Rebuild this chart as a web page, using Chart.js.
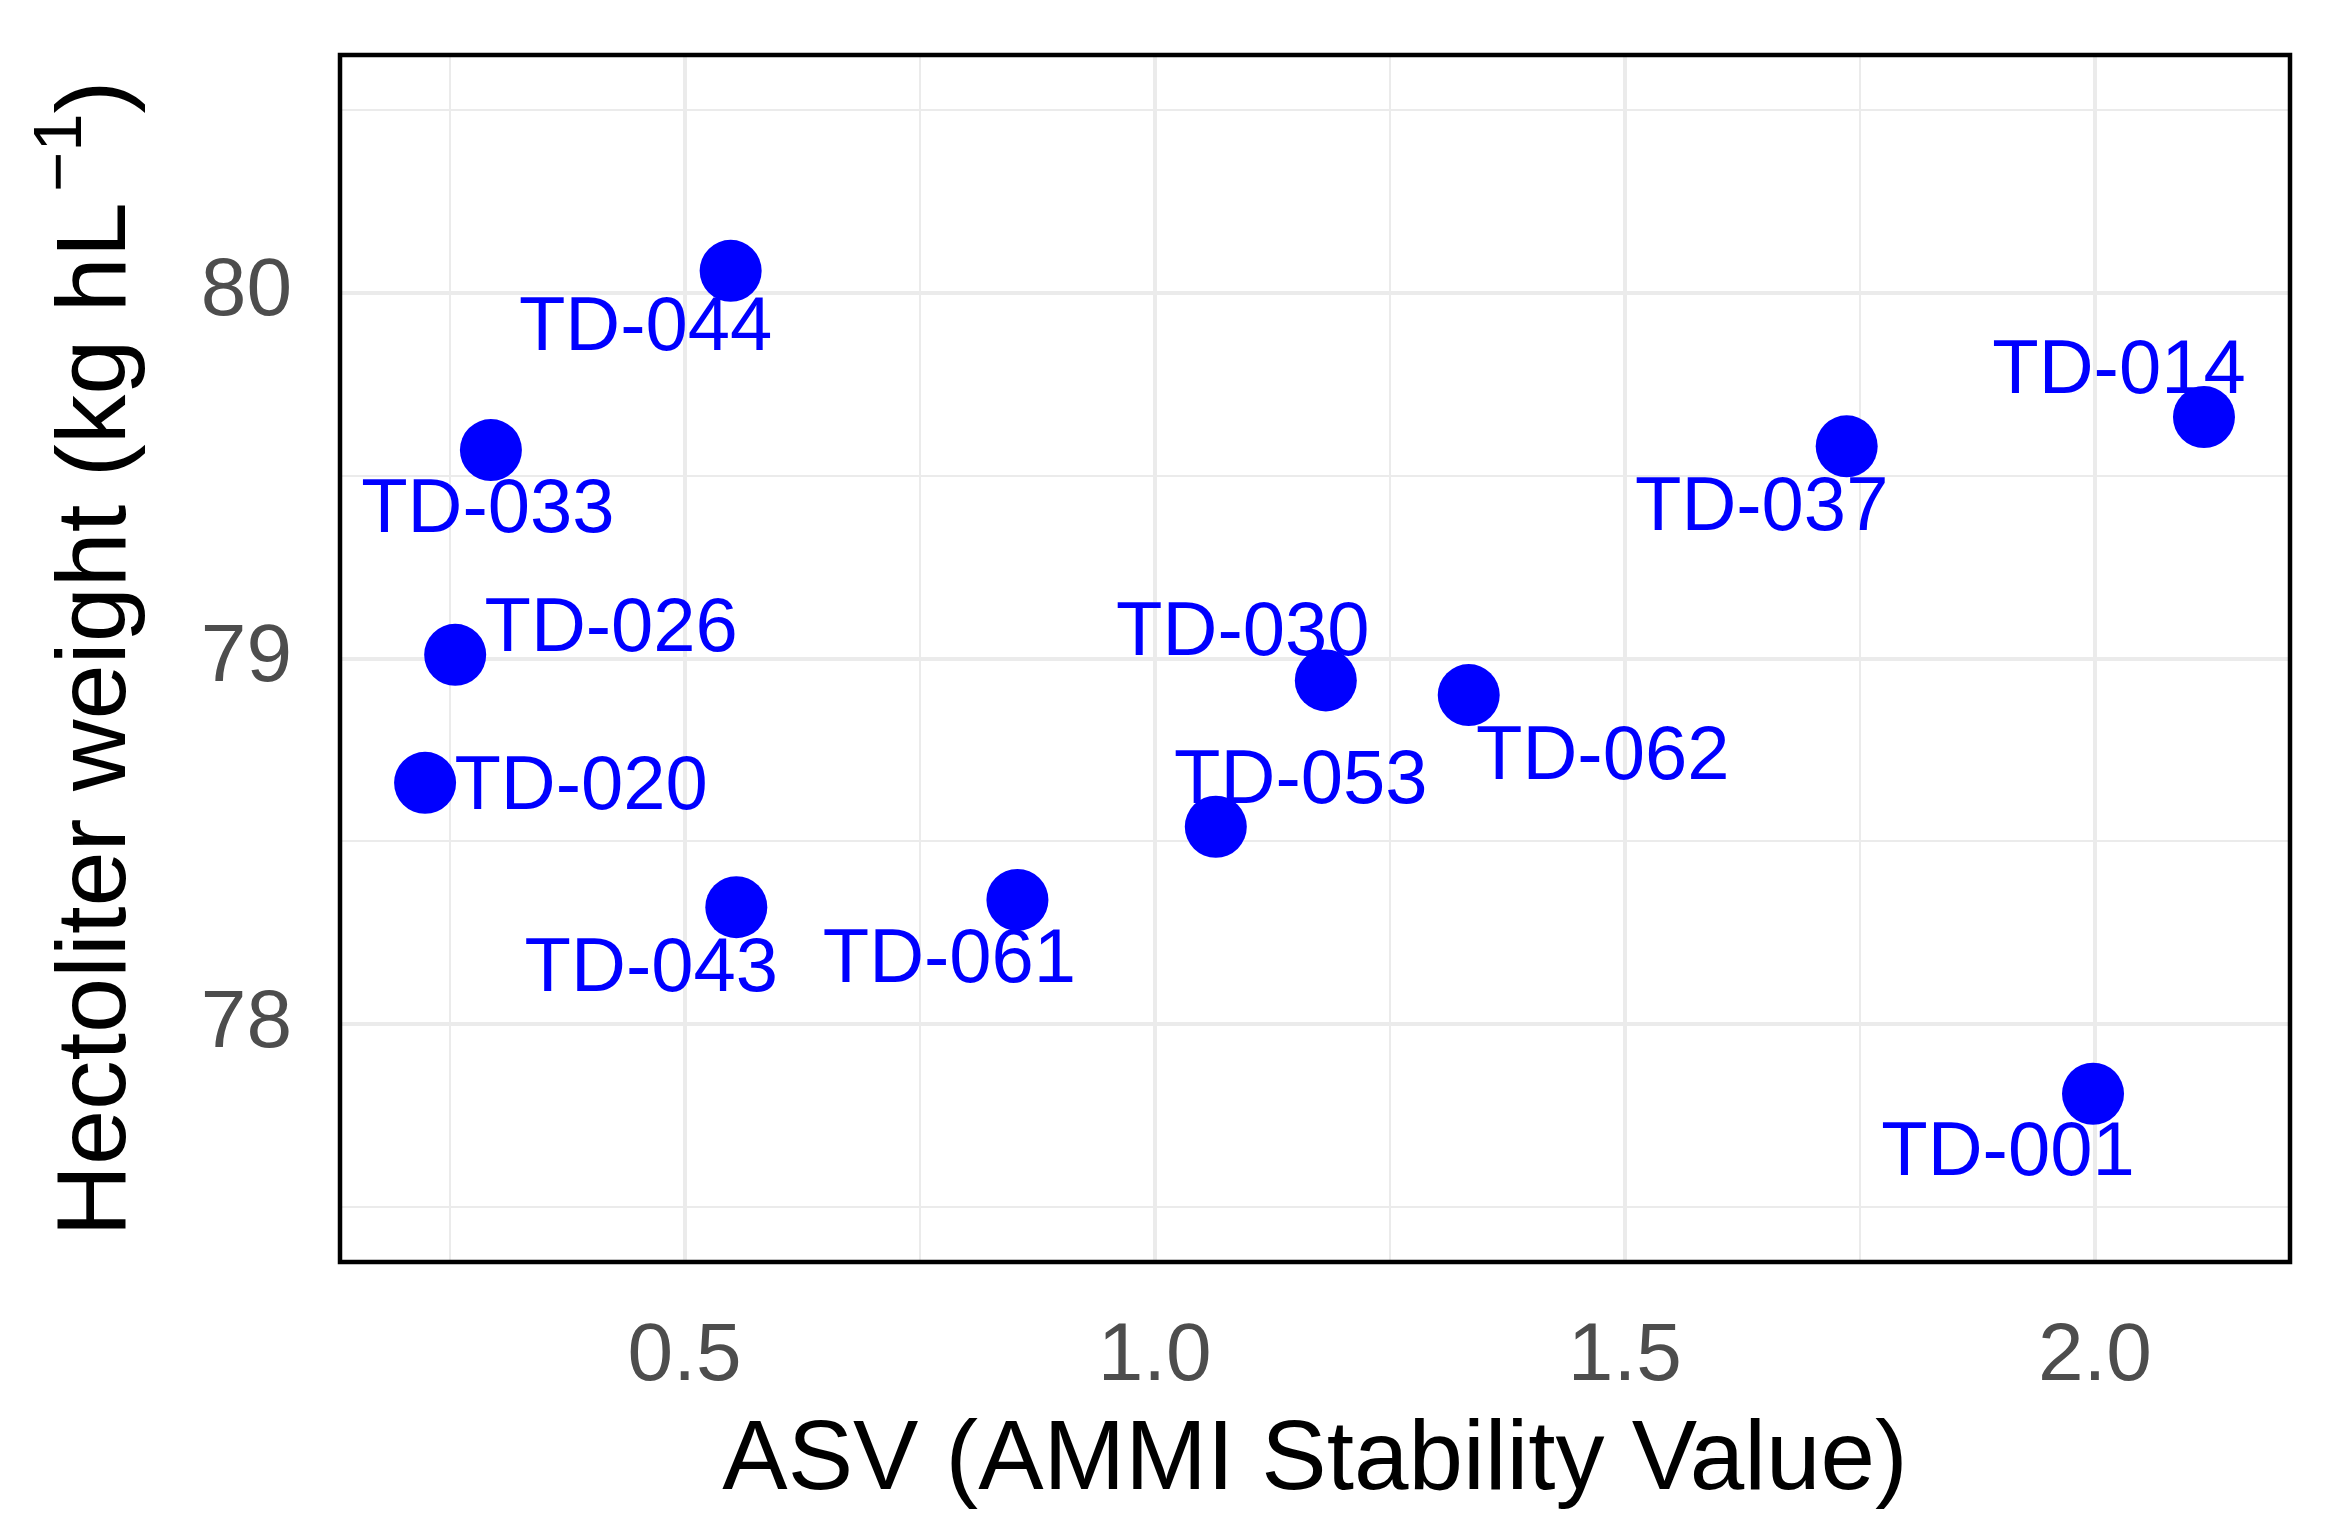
<!DOCTYPE html>
<html><head><meta charset="utf-8">
<script src="https://cdn.jsdelivr.net/npm/chart.js@4"></script>
<style>html,body{margin:0;padding:0;background:#fff;} canvas{display:block;}</style>
</head><body>
<canvas id="c" width="2335" height="1528"></canvas>
<script>
// ---- data ----
const genotypes = ["TD-044","TD-033","TD-026","TD-020","TD-043","TD-061","TD-053","TD-030","TD-062","TD-037","TD-014","TD-001"];
const asv = [0.549,0.294,0.256,0.224,0.555,0.854,1.065,1.182,1.334,1.736,2.116,1.998];
const hectoliterWeight = [80.06,79.57,79.01,78.66,78.32,78.34,78.54,78.94,78.90,79.58,79.66,77.81];
const xMajorTicks = [0.5,1.0,1.5,2.0];
const xMinorTicks = [0.25,0.75,1.25,1.75];
const yMajorTicks = [78,79,80];
const yMinorTicks = [77.5,78.5,79.5,80.5];
const xRange = [0.1335,2.2075];
const yRange = [77.35,80.65];
const xTitle = "ASV (AMMI Stability Value)";
const yTitleMain = "Hectoliter weight (kg hL";
const yTitleSup = "\u22121";
const yTitleEnd = ")";

// ---- layout (label nudges in px, not data) ----
const labelNudge = [[-85,52],[-3,55],[156,-31],[156,-1],[-85,57],[-68,55],[85,-51],[-83,-52],[134,57],[-85,57],[-85,-51],[-85,54]];
const FONT = '"Liberation Sans", Arial, Helvetica, sans-serif';
const W = 2335, H = 1528;
const plotL = 340, plotR = 2290, plotT = 55, plotB = 1262;

const annot = {
  id: 'annot',
  afterDatasetsDraw(chart) {
    const ctx = chart.ctx;
    const meta = chart.getDatasetMeta(0);
    ctx.save();
    ctx.fillStyle = '#0000FF';
    ctx.font = '76px ' + FONT;
    ctx.textAlign = 'center';
    ctx.textBaseline = 'alphabetic';
    meta.data.forEach((pt, i) => {
      const [dx, dy] = labelNudge[i];
      ctx.fillText(genotypes[i], pt.x + dx, pt.y + dy + 27);
    });
    ctx.restore();
  },
  afterDraw(chart) {
    const ctx = chart.ctx;
    const a = chart.chartArea;
    ctx.save();
    ctx.strokeStyle = '#000';
    ctx.lineWidth = 4.5;
    ctx.strokeRect(a.left, a.top, a.right - a.left, a.bottom - a.top);
    ctx.fillStyle = '#000';
    ctx.font = '98px ' + FONT;
    ctx.textAlign = 'center';
    ctx.textBaseline = 'alphabetic';
    ctx.fillText(xTitle, (a.left + a.right) / 2, 1489);
    const mainF = '99px ' + FONT, supF = '69px ' + FONT;
    ctx.font = mainF; const w1 = ctx.measureText(yTitleMain).width; const w3 = ctx.measureText(yTitleEnd).width;
    ctx.font = supF; const w2 = ctx.measureText(yTitleSup).width;
    const gap = 10;
    const total = w1 + gap + w2 + w3;
    ctx.translate(125, (a.top + a.bottom) / 2);
    ctx.rotate(-Math.PI / 2);
    ctx.textAlign = 'left';
    let x0 = -total / 2;
    ctx.font = mainF; ctx.fillText(yTitleMain, x0, 0);
    ctx.font = supF; ctx.fillText(yTitleSup, x0 + w1 + gap, -44);
    ctx.font = mainF; ctx.fillText(yTitleEnd, x0 + w1 + gap + w2, 0);
    ctx.restore();
  }
};

const isIn = (arr, v) => arr.some(t => Math.abs(t - v) < 1e-9);
const zeroPad = s => { s.paddingTop = 0; s.paddingBottom = 0; s.paddingLeft = 0; s.paddingRight = 0; };

new Chart(document.getElementById('c').getContext('2d'), {
  type: 'scatter',
  data: { datasets: [{
    data: asv.map((x, i) => ({ x: x, y: hectoliterWeight[i] })),
    backgroundColor: '#0000FF', borderWidth: 0, pointRadius: 31, pointHoverRadius: 31
  }]},
  options: {
    responsive: false, devicePixelRatio: 1, animation: false, events: [],
    layout: { padding: { top: plotT, right: W - plotR, left: 0, bottom: 0 } },
    plugins: { legend: { display: false }, tooltip: { enabled: false } },
    scales: {
      x: {
        type: 'linear', min: xRange[0], max: xRange[1],
        afterBuildTicks: s => { s.ticks = [...xMinorTicks, ...xMajorTicks].sort((a, b) => a - b).map(v => ({ value: v })); },
        afterFit: s => { s.height = H - plotB; zeroPad(s); },
        ticks: { autoSkip: false, maxRotation: 0, padding: 46, color: '#4D4D4D',
          font: { family: FONT, size: 82 },
          callback: v => isIn(xMajorTicks, v) ? Number(v).toFixed(1) : '' },
        grid: { drawTicks: false, color: '#EBEBEB',
          lineWidth: c => (c.tick && isIn(xMajorTicks, c.tick.value)) ? 4 : 2 },
        border: { display: false }
      },
      y: {
        type: 'linear', min: yRange[0], max: yRange[1],
        afterBuildTicks: s => { s.ticks = [...yMinorTicks, ...yMajorTicks].sort((a, b) => a - b).map(v => ({ value: v })); },
        afterFit: s => { s.width = plotL; zeroPad(s); },
        ticks: { autoSkip: false, padding: 48, color: '#4D4D4D',
          font: { family: FONT, size: 82 },
          callback: v => isIn(yMajorTicks, v) ? String(v) : '' },
        grid: { drawTicks: false, color: '#EBEBEB',
          lineWidth: c => (c.tick && isIn(yMajorTicks, c.tick.value)) ? 4 : 2 },
        border: { display: false }
      }
    }
  },
  plugins: [annot]
});
</script>
</body></html>
